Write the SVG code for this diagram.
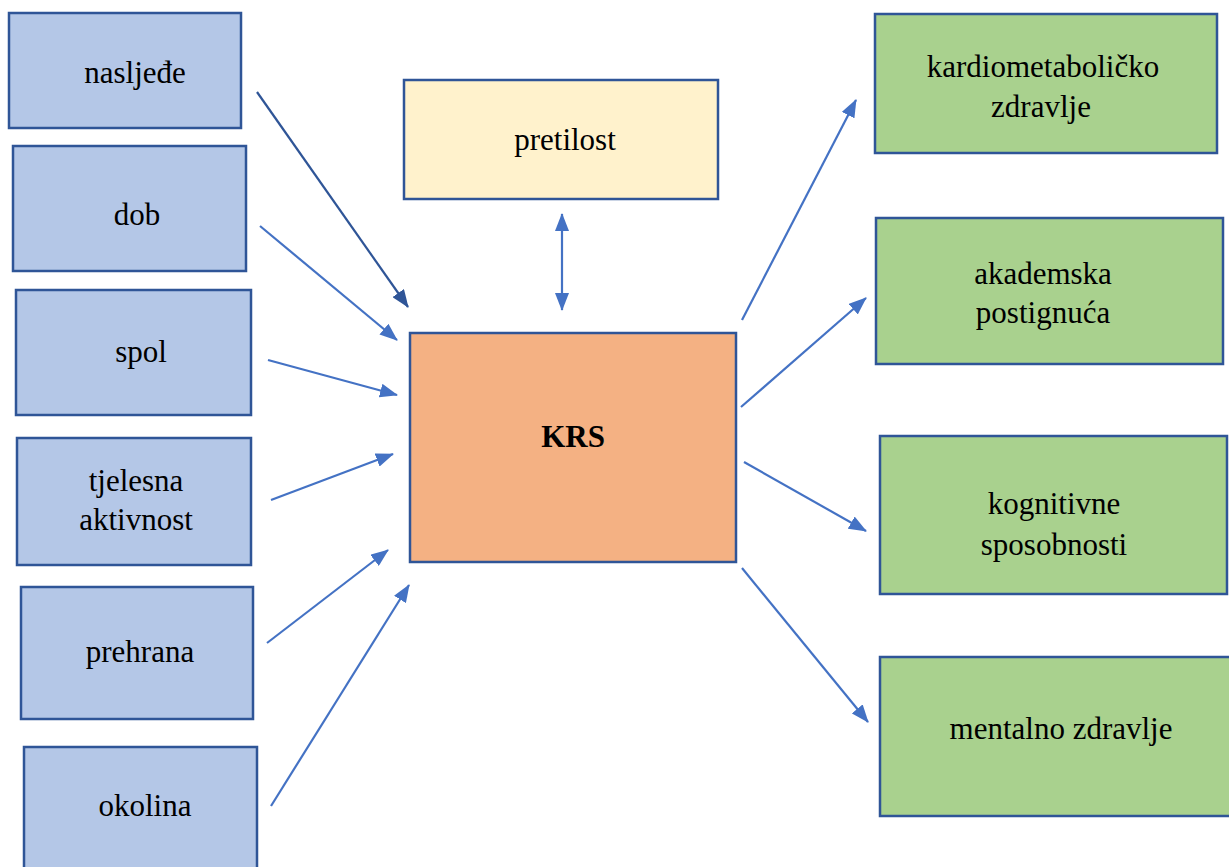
<svg xmlns="http://www.w3.org/2000/svg" width="1229" height="867" viewBox="0 0 1229 867">
<style>
.box{stroke:#2F5597;stroke-width:2.5}
.blue{fill:#B4C7E7}.yellow{fill:#FFF2CC}.orange{fill:#F4B183}.green{fill:#A9D18E}
.t{font-family:'Liberation Serif','DejaVu Serif',serif;font-size:31px;fill:#000;text-anchor:middle}
.bold{font-weight:bold}
.c{stroke:#4472C4;stroke-width:2.2;fill:none;marker-end:url(#ah)}
.dk{stroke:#2F5597;marker-end:url(#ahd)}
</style>
<defs>
<marker id="ah" markerUnits="userSpaceOnUse" markerWidth="18" markerHeight="14" refX="17" refY="7" orient="auto-start-reverse"><path d="M0,0 L18,7 L0,14 z" fill="#4472C4"/></marker>
<marker id="ahd" markerUnits="userSpaceOnUse" markerWidth="18" markerHeight="14" refX="17" refY="7" orient="auto"><path d="M0,0 L18,7 L0,14 z" fill="#2F5597"/></marker>
</defs>
<rect width="1229" height="867" fill="#fff"/>
<g class="t" font-family="Liberation Serif, serif">
<g id="nasljede"><rect class="box blue" x="9" y="13" width="232" height="115"/><text x="135" y="83">nasljeđe</text></g>
<g id="dob"><rect class="box blue" x="13" y="146" width="233" height="125"/><text x="137" y="225">dob</text></g>
<g id="spol"><rect class="box blue" x="16" y="290" width="235" height="125"/><text x="141" y="362">spol</text></g>
<g id="tjelesna"><rect class="box blue" x="17" y="438" width="234" height="127"/><text x="136" y="491">tjelesna</text><text x="136" y="530">aktivnost</text></g>
<g id="prehrana"><rect class="box blue" x="21" y="587" width="232" height="132"/><text x="140" y="662">prehrana</text></g>
<g id="okolina"><rect class="box blue" x="24" y="747" width="233" height="125"/><text x="145" y="816">okolina</text></g>
<g id="pretilost"><rect class="box yellow" x="404" y="80" width="314" height="119"/><text x="565" y="150">pretilost</text></g>
<g id="krs"><rect class="box orange" x="410" y="333" width="326" height="229"/><text class="bold" x="573" y="447">KRS</text></g>
<g id="kardio"><rect class="box green" x="875" y="14" width="342" height="139"/><text x="1043" y="77">kardiometaboličko</text><text x="1041" y="117">zdravlje</text></g>
<g id="akademska"><rect class="box green" x="876" y="218" width="347" height="146"/><text x="1043" y="284">akademska</text><text x="1043" y="323">postignuća</text></g>
<g id="kognitivne"><rect class="box green" x="880" y="436" width="347" height="158"/><text x="1054" y="514">kognitivne</text><text x="1054" y="555">sposobnosti</text></g>
<g id="mentalno"><rect class="box green" x="880" y="657" width="352" height="159"/><text x="1061" y="739">mentalno zdravlje</text></g>
</g>
<g id="connectors">
<line class="c dk" x1="257" y1="92" x2="408" y2="307"/>
<line class="c" x1="260" y1="226" x2="397" y2="340"/>
<line class="c" x1="268" y1="360" x2="397" y2="395"/>
<line class="c" x1="271" y1="500" x2="393" y2="454"/>
<line class="c" x1="267" y1="643" x2="388" y2="550"/>
<line class="c" x1="271" y1="806" x2="409" y2="585"/>
<line class="c" x1="562" y1="214" x2="562" y2="310" style="marker-start:url(#ah)"/>
<line class="c" x1="742" y1="320" x2="856" y2="100"/>
<line class="c" x1="741" y1="407" x2="866" y2="298"/>
<line class="c" x1="744" y1="462" x2="866" y2="531"/>
<line class="c" x1="742" y1="568" x2="868" y2="722"/>
</g>
</svg>
